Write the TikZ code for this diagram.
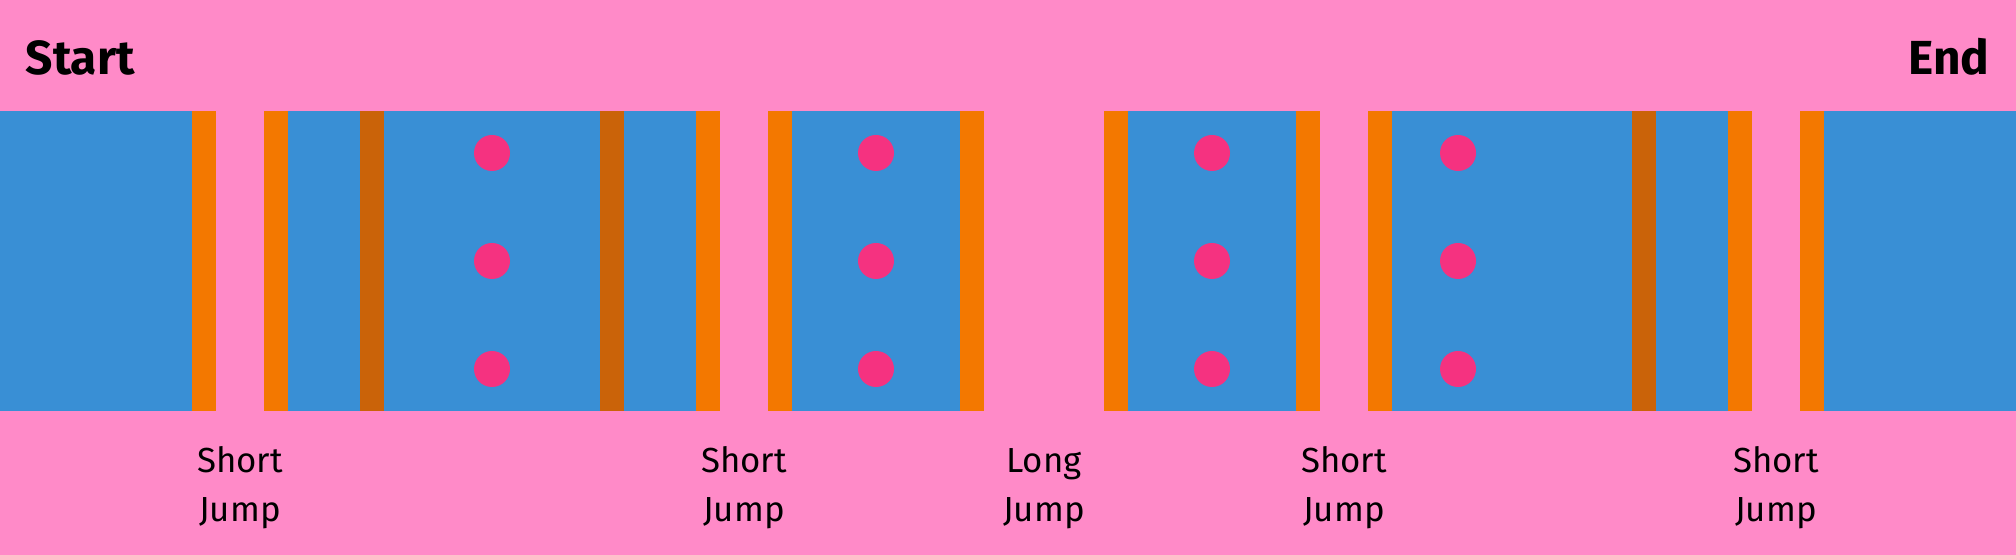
\documentclass[tikz,border=0pt]{standalone}
\usepackage{fontspec}
\setmainfont{Fira Sans}
\usetikzlibrary{positioning}
\definecolor{bgpink}{HTML}{FF8AC8}
\definecolor{lane}{HTML}{398FD5}
\definecolor{rail}{HTML}{F37800}
\definecolor{seam}{HTML}{CA6309}
\definecolor{stone}{HTML}{F53280}

\begin{document}
\begin{tikzpicture}[
    every node/.style={inner sep=0pt},
    tag/.style={font=\bfseries\fontsize{13.6}{16}\selectfont, text=black},
    jump/.style={font=\fontsize{9.9}{14}\selectfont, align=center, text=black},
    railbar/.style={fill=rail},
    seambar/.style={fill=seam},
]
\def\lo{1.44}
\def\hi{4.44}

% background
\fill[bgpink] (0,0) rectangle (20.16,5.55);
\useasboundingbox (0,0) rectangle (20.16,5.55);

% the blue track pieces
\foreach \a/\b in {0/2.16, 2.64/7.20, 7.68/9.84, 11.04/13.20, 13.68/17.52, 18.00/20.16}{
    \fill[lane] (\a,\lo) rectangle (\b,\hi);
}

% orange edges at every gap
\foreach \x in {1.92, 2.64, 6.96, 7.68, 9.60, 11.04, 12.96, 13.68, 17.28, 18.00}{
    \fill[railbar] (\x,\lo) rectangle ({\x+0.24},\hi);
}

% darker seams inside a piece
\foreach \x in {3.60, 6.00, 16.32}{
    \fill[seambar] (\x,\lo) rectangle ({\x+0.24},\hi);
}

% three stones per column
\foreach \x in {4.92, 8.76, 12.12, 14.58}{
    \foreach \y in {4.02, 2.94, 1.86}{
        \fill[stone] (\x,\y) circle (0.18);
    }
}

% labels
\node[tag, anchor=base west] (start) at (0.25, 4.80) {Start};
\node[tag, anchor=base east] (finish) at (19.90, 4.80) {End};

\foreach \x/\name/\txt in {2.40/jumpa/Short, 7.44/jumpb/Short, 10.44/jumpc/Long,
                          13.44/jumpd/Short, 17.76/jumpe/Short}{
    \node[jump, anchor=base] (\name) at (\x, 0.33) {\txt\\Jump};
}
\end{tikzpicture}
\end{document}
